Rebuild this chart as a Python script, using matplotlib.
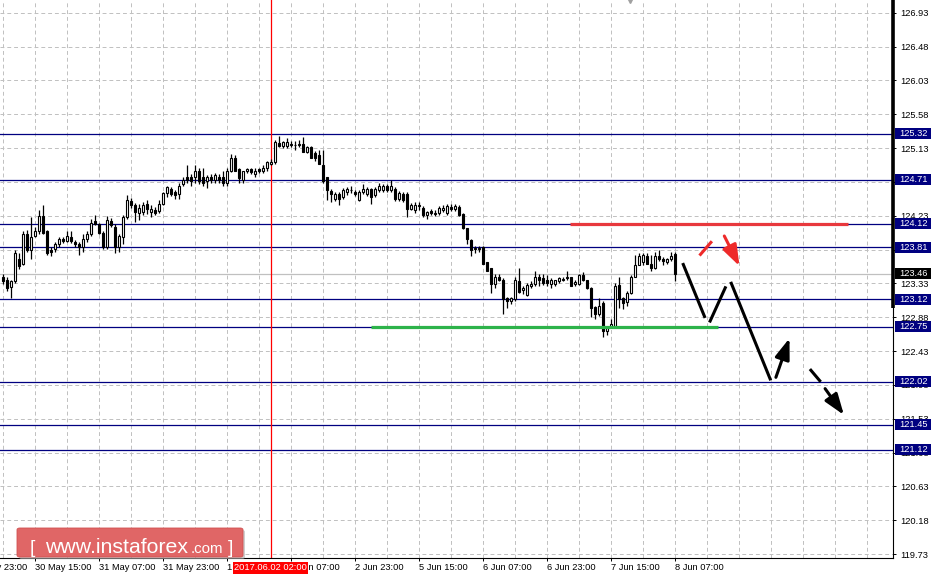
import matplotlib
matplotlib.use('Agg')
import matplotlib.pyplot as plt
import matplotlib.transforms as mtransforms
from matplotlib.patches import Rectangle, FancyBboxPatch

# H1 candles, bar 0 = 30 May 07:00 ... bar 168 = 8 Jun 07:00
opens = [123.41, 123.38, 123.28, 123.36, 123.66, 123.59, 123.99, 123.77, 123.96, 124.02,
         124.23, 124.03, 123.78, 123.79, 123.86, 123.92, 123.90, 123.95, 123.88, 123.86,
         123.82, 123.92, 123.98, 124.16, 124.12, 124.00, 123.81, 124.16, 124.08, 123.82,
         123.95, 124.21, 124.42, 124.37, 124.26, 124.28, 124.38, 124.28, 124.31, 124.29,
         124.38, 124.53, 124.58, 124.54, 124.52, 124.65, 124.74, 124.75, 124.75, 124.83,
         124.75, 124.69, 124.74, 124.71, 124.75, 124.74, 124.66, 124.82, 125.00, 124.85,
         124.70, 124.82, 124.85, 124.78, 124.85, 124.82, 124.86, 124.92, 124.94, 125.20,
         125.16, 125.16, 125.18, 125.17, 125.17, 125.19, 125.08, 125.14, 125.07, 125.04,
         124.90, 124.74, 124.56, 124.45, 124.52, 124.48, 124.54, 124.57, 124.54, 124.44,
         124.54, 124.52, 124.58, 124.50, 124.57, 124.57, 124.62, 124.57, 124.58, 124.45,
         124.52, 124.52, 124.32, 124.31, 124.36, 124.33, 124.24, 124.29, 124.25, 124.27,
         124.31, 124.27, 124.35, 124.32, 124.35, 124.25, 124.06, 123.91, 123.79, 123.79,
         123.81, 123.61, 123.53, 123.32, 123.42, 123.38, 123.13, 123.10, 123.12, 123.36,
         123.24, 123.17, 123.29, 123.32, 123.41, 123.40, 123.38, 123.32, 123.32, 123.36,
         123.38, 123.40, 123.41, 123.32, 123.32, 123.44, 123.37, 123.27, 123.02, 122.92,
         123.07, 122.69, 122.75, 122.76, 123.31, 123.13, 123.08, 123.20, 123.42, 123.58,
         123.61, 123.70, 123.59, 123.53, 123.70, 123.66, 123.62, 123.66, 123.72]
highs = [123.45, 123.42, 123.38, 123.77, 123.73, 124.02, 124.04, 124.21, 124.08, 124.31,
         124.37, 124.04, 123.82, 123.88, 123.94, 123.95, 124.02, 124.03, 123.91, 123.88,
         123.98, 124.02, 124.19, 124.24, 124.13, 124.02, 124.23, 124.20, 124.12, 123.98,
         124.24, 124.50, 124.46, 124.40, 124.38, 124.41, 124.44, 124.37, 124.35, 124.44,
         124.54, 124.63, 124.61, 124.57, 124.67, 124.74, 124.90, 124.78, 124.90, 124.86,
         124.86, 124.77, 124.78, 124.80, 124.78, 124.83, 124.87, 125.05, 125.04, 124.86,
         124.82, 124.87, 124.87, 124.86, 124.87, 124.90, 124.96, 124.98, 125.24, 125.29,
         125.23, 125.27, 125.23, 125.23, 125.24, 125.28, 125.16, 125.16, 125.09, 125.11,
         125.11, 124.75, 124.58, 124.54, 124.54, 124.60, 124.61, 124.63, 124.57, 124.57,
         124.65, 124.61, 124.60, 124.61, 124.66, 124.65, 124.65, 124.70, 124.61, 124.56,
         124.54, 124.54, 124.40, 124.41, 124.41, 124.36, 124.29, 124.32, 124.31, 124.36,
         124.37, 124.38, 124.38, 124.38, 124.37, 124.27, 124.07, 123.92, 123.83, 123.83,
         123.83, 123.62, 123.54, 123.45, 123.45, 123.40, 123.15, 123.15, 123.41, 123.53,
         123.29, 123.33, 123.36, 123.49, 123.46, 123.46, 123.44, 123.40, 123.38, 123.42,
         123.41, 123.50, 123.42, 123.37, 123.45, 123.48, 123.38, 123.28, 123.03, 123.13,
         123.10, 122.76, 122.85, 123.33, 123.41, 123.15, 123.23, 123.44, 123.71, 123.73,
         123.73, 123.73, 123.71, 123.75, 123.77, 123.68, 123.67, 123.75, 123.75]
lows = [123.32, 123.23, 123.13, 123.33, 123.52, 123.58, 123.75, 123.65, 123.94, 123.98,
        123.98, 123.71, 123.70, 123.75, 123.82, 123.87, 123.88, 123.87, 123.82, 123.71,
        123.75, 123.88, 123.96, 124.10, 123.98, 123.79, 123.79, 124.08, 123.73, 123.75,
        123.85, 124.19, 124.33, 124.15, 124.17, 124.24, 124.25, 124.21, 124.24, 124.27,
        124.37, 124.48, 124.49, 124.45, 124.45, 124.62, 124.67, 124.62, 124.67, 124.65,
        124.63, 124.60, 124.66, 124.67, 124.67, 124.63, 124.63, 124.81, 124.83, 124.67,
        124.67, 124.80, 124.78, 124.75, 124.80, 124.80, 124.83, 124.90, 124.92, 125.14,
        125.13, 125.13, 125.14, 125.11, 125.14, 125.08, 125.06, 125.00, 124.96, 124.92,
        124.67, 124.44, 124.41, 124.42, 124.37, 124.45, 124.50, 124.53, 124.49, 124.42,
        124.52, 124.49, 124.38, 124.48, 124.54, 124.54, 124.54, 124.54, 124.42, 124.42,
        124.41, 124.21, 124.30, 124.27, 124.31, 124.21, 124.19, 124.24, 124.23, 124.24,
        124.28, 124.24, 124.29, 124.29, 124.23, 124.05, 123.85, 123.70, 123.73, 123.75,
        123.59, 123.49, 123.20, 123.27, 123.36, 122.92, 123.00, 123.06, 123.10, 123.20,
        123.19, 123.16, 123.27, 123.30, 123.29, 123.31, 123.29, 123.27, 123.29, 123.33,
        123.36, 123.38, 123.29, 123.29, 123.31, 123.36, 123.26, 122.88, 122.86, 122.90,
        122.61, 122.64, 122.73, 122.74, 123.00, 122.99, 123.03, 123.19, 123.41, 123.57,
        123.58, 123.59, 123.50, 123.52, 123.63, 123.57, 123.59, 123.63, 123.36]
closes = [123.36, 123.27, 123.36, 123.74, 123.56, 123.99, 123.78, 123.95, 124.02, 124.23,
          124.00, 123.74, 123.75, 123.86, 123.92, 123.90, 123.96, 123.90, 123.85, 123.81,
          123.92, 123.98, 124.13, 124.12, 124.00, 123.81, 124.17, 124.11, 123.82, 123.96,
          124.21, 124.44, 124.37, 124.28, 124.33, 124.37, 124.32, 124.32, 124.27, 124.38,
          124.53, 124.61, 124.52, 124.50, 124.63, 124.71, 124.70, 124.69, 124.83, 124.69,
          124.67, 124.75, 124.70, 124.77, 124.70, 124.66, 124.83, 125.00, 124.83, 124.73,
          124.82, 124.85, 124.81, 124.83, 124.83, 124.87, 124.94, 124.95, 125.21, 125.16,
          125.21, 125.21, 125.17, 125.17, 125.18, 125.08, 125.14, 125.00, 125.00, 124.92,
          124.69, 124.57, 124.52, 124.52, 124.45, 124.57, 124.58, 124.57, 124.52, 124.54,
          124.58, 124.58, 124.48, 124.58, 124.63, 124.62, 124.57, 124.62, 124.45, 124.53,
          124.44, 124.32, 124.37, 124.37, 124.37, 124.24, 124.28, 124.27, 124.26, 124.33,
          124.33, 124.36, 124.32, 124.36, 124.24, 124.06, 123.92, 123.78, 123.79, 123.80,
          123.59, 123.49, 123.32, 123.42, 123.38, 123.12, 123.10, 123.13, 123.38, 123.21,
          123.27, 123.31, 123.32, 123.42, 123.37, 123.33, 123.33, 123.37, 123.37, 123.40,
          123.39, 123.41, 123.29, 123.35, 123.44, 123.37, 123.27, 123.00, 122.92, 123.03,
          122.69, 122.74, 122.79, 123.29, 123.12, 123.07, 123.20, 123.41, 123.58, 123.70,
          123.71, 123.59, 123.53, 123.70, 123.66, 123.63, 123.65, 123.70, 123.46]

# horizontal levels drawn on the chart
levels = [125.32, 124.71, 124.12, 123.81, 123.12, 122.75, 122.02, 121.45, 121.12]
last_price = 123.46

# price scale
y_ticks = [119.73, 120.18, 120.63, 121.08, 121.53, 121.98, 122.43, 122.88, 123.33,
           123.78, 124.23, 124.68, 125.13, 125.58, 126.03, 126.48, 126.93]

# time scale
x_label_bars = [8, 24, 40, 56, 72, 88, 104, 120, 136, 152, 168]
x_labels = ['30 May 15:00', '31 May 07:00', '31 May 23:00', '1 Jun 15:00', '2 Jun 07:00',
            '2 Jun 23:00', '5 Jun 15:00', '6 Jun 07:00', '6 Jun 23:00', '7 Jun 15:00',
            '8 Jun 07:00']
first_label_bar = -8
first_label = '29 May 23:00'
vline_bar = 67
vline_label = '2017.06.02 02:00'
shift_marker_bar = 156.8

# resistance / support zones: (bar from, bar to, price)
resistance_zone = (141.8, 211.3, 124.12)
support_zone = (92.1, 178.8, 122.75)

# forecast sketch, points as (bar, price)
red_dash = [(174.2, 123.70), (177.3, 123.89)]
red_arrow = [(180.4, 123.96), (184.2, 123.56)]
black_legs = [
    [(170.0, 123.60), (175.6, 122.87)],
    [(176.7, 122.81), (180.8, 123.29)],
    [(182.0, 123.35), (192.0, 122.04)],
    [(201.8, 122.19), (204.5, 122.02)],
]
black_arrows = [
    [(193.3, 122.08), (196.7, 122.60)],
    [(205.6, 121.93), (210.3, 121.58)],
]

FONT = 'Liberation Sans'
FS = 6.7
NAVY = '#000080'
GRID = '#c0c0c0'


def draw_candles(ax):
    idx = list(range(len(opens)))
    ax.vlines(idx, lows, highs, color='black', lw=0.9, zorder=3)
    for i in idx:
        o, c = opens[i], closes[i]
        bottom = min(o, c)
        h = max(abs(c - o), 0.004)
        fc = 'white' if c >= o else 'black'
        ax.add_patch(Rectangle((i - 0.3, bottom), 0.6, h, facecolor=fc,
                               edgecolor='black', lw=0.8, zorder=4))


def draw_levels(ax, trans):
    for lv in levels:
        ax.axhline(lv, color=NAVY, lw=0.9, zorder=2)
    ax.axhline(last_price, color=GRID, lw=0.9, zorder=2)
    ax.axvline(vline_bar, color='red', lw=0.9, zorder=2)

    # price boxes on the right scale
    box_h = 11 * (ax.get_ylim()[1] - ax.get_ylim()[0]) / 558
    for lv, col in [(v, NAVY) for v in levels] + [(last_price, 'black')]:
        ax.add_patch(Rectangle((895 / 893, lv - box_h / 2), 36 / 893, box_h,
                               transform=trans, facecolor=col, edgecolor='none',
                               clip_on=False, zorder=6))
        ax.text(913.5 / 893, lv, f'{lv:.2f}', transform=trans, ha='center', va='center',
                color='white', fontsize=FS, family=FONT, zorder=7, clip_on=False)


def draw_forecast(ax):
    x0, x1, p = resistance_zone
    ax.plot([x0, x1], [p, p], color='#e8383d', lw=2.3, solid_capstyle='butt', zorder=5)
    x0, x1, p = support_zone
    ax.plot([x0, x1], [p, p], color='#2db34a', lw=2.3, solid_capstyle='butt', zorder=5)

    (ax_, ay), (bx, by) = red_dash
    ax.plot([ax_, bx], [ay, by], color='#ee2a2a', lw=2.2, solid_capstyle='butt', zorder=5)
    for seg in black_legs:
        ax.plot([seg[0][0], seg[1][0]], [seg[0][1], seg[1][1]], color='black', lw=2.2,
                solid_capstyle='butt', zorder=5)

    style = '-|>,head_length=0.9,head_width=0.32'
    ax.annotate('', xy=red_arrow[1], xytext=red_arrow[0],
                arrowprops=dict(arrowstyle=style, color='#ee2a2a', lw=2.2,
                                mutation_scale=14, shrinkA=0, shrinkB=0), zorder=5)
    for seg in black_arrows:
        ax.annotate('', xy=seg[1], xytext=seg[0],
                    arrowprops=dict(arrowstyle=style, color='black', lw=2.2,
                                    mutation_scale=14, shrinkA=0, shrinkB=0), zorder=5)


def draw_watermark(fig):
    W, H = 935, 579
    x0, y0, w, h = 17, 22, 226, 29
    fig.patches.append(FancyBboxPatch(((x0 + 2) / W, (y0 - 2) / H), w / W, h / H,
                                      boxstyle='round,pad=0,rounding_size=0.003',
                                      transform=fig.transFigure, facecolor='#b0b0b0',
                                      edgecolor='none', alpha=0.6, zorder=8))
    fig.patches.append(FancyBboxPatch((x0 / W, y0 / H), w / W, h / H,
                                      boxstyle='round,pad=0,rounding_size=0.003',
                                      transform=fig.transFigure, facecolor='#e06666',
                                      edgecolor='#d05050', lw=0.6, zorder=9))
    base = 26 / H
    fig.text(30 / W, base, '[', color='white', fontsize=14, family=FONT, zorder=10)
    fig.text(45 / W, base, 'www.instaforex', color='white', fontsize=15.3, family=FONT,
             zorder=10)
    fig.text(191 / W, base, '.com', color='white', fontsize=10.8, family=FONT, zorder=10)
    fig.text(228 / W, base, ']', color='white', fontsize=14, family=FONT, zorder=10)


def main():
    fig = plt.figure(figsize=(9.35, 5.79), dpi=100)
    ax = fig.add_axes([0, 21 / 579, 893 / 935, 558 / 579])
    ax.set_xlim(-0.675, 222.575)
    ax.set_ylim(119.677, 127.099)
    trans_y = mtransforms.blended_transform_factory(ax.transAxes, ax.transData)
    trans_x = mtransforms.blended_transform_factory(ax.transData, ax.transAxes)

    for side in ['left', 'top']:
        ax.spines[side].set_visible(False)
    for side in ['right', 'bottom']:
        ax.spines[side].set_color('black')
        ax.spines[side].set_linewidth(0.8)

    # price scale on the right
    ax.yaxis.tick_right()
    ax.set_yticks(y_ticks)
    ax.set_yticklabels([f'{v:.2f}' for v in y_ticks], family=FONT, fontsize=FS)
    ax.tick_params(axis='y', length=2.2, width=0.7, pad=2.9)

    # time scale
    ax.set_xticks(x_label_bars)
    ax.set_xticklabels(x_labels, family=FONT, fontsize=FS, ha='left')
    ax.set_xticks(list(range(0, 223, 8)), minor=True)
    ax.tick_params(axis='x', which='major', length=2.2, width=0.7, pad=1.5)
    ax.tick_params(axis='x', which='minor', length=0)
    ax.annotate(first_label, xy=(first_label_bar, 0), xycoords=trans_x,
                xytext=(0, -3.7), textcoords='offset points', ha='left', va='top',
                family=FONT, fontsize=FS, annotation_clip=False)

    dash = (0, (4, 3))
    ax.xaxis.grid(True, which='both', color=GRID, lw=0.7, ls=dash)
    ax.yaxis.grid(True, which='major', color=GRID, lw=0.7, ls=dash)
    ax.set_axisbelow(True)

    draw_levels(ax, trans_y)
    draw_candles(ax)
    draw_forecast(ax)

    # chart shift marker at the top edge
    ax.plot([shift_marker_bar], [1.0], transform=trans_x, marker='v', ms=4,
            color='#a0a0a0', clip_on=False, zorder=6)

    # thick part of the price scale edge
    ax.plot([1.0, 1.0], [123.0, 127.099], transform=trans_y, color='black', lw=2.6,
            solid_capstyle='butt', clip_on=False, zorder=6)

    # label of the vertical line
    ax.annotate(vline_label, xy=(vline_bar, 0), xycoords=trans_x, xytext=(0, -3.9),
                textcoords='offset points', ha='center', va='top', color='white',
                family=FONT, fontsize=FS, annotation_clip=False, zorder=8,
                bbox=dict(boxstyle='square,pad=0.12', fc='red', ec='none'))

    draw_watermark(fig)

    fig.savefig('out.png', dpi=100)


if __name__ == '__main__':
    main()
